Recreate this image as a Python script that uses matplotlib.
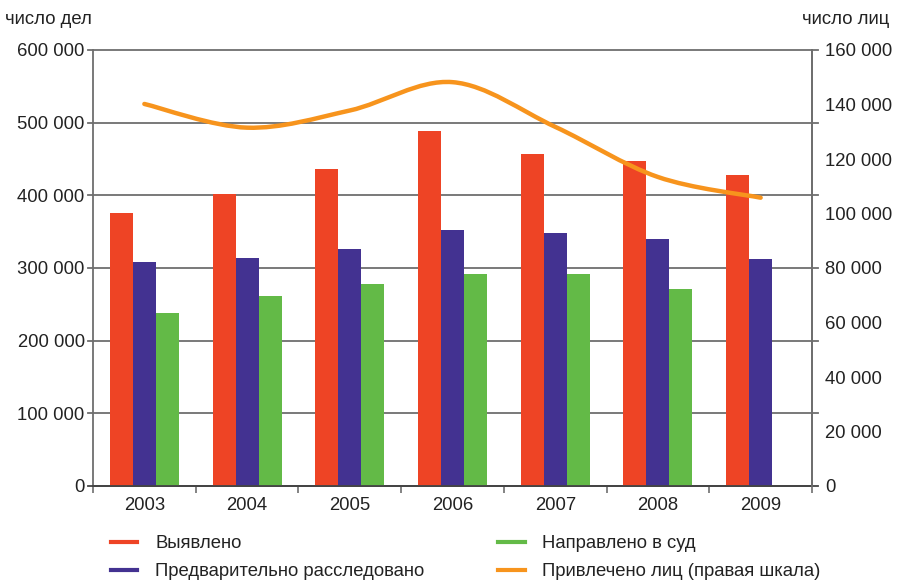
import matplotlib
matplotlib.use("Agg")
import matplotlib.pyplot as plt
import numpy as np
from matplotlib.path import Path
from matplotlib.patches import PathPatch
from matplotlib.lines import Line2D
from matplotlib.ticker import FuncFormatter, MultipleLocator

years = ["2003", "2004", "2005", "2006", "2007", "2008", "2009"]
revealed = [376000, 402000, 436000, 488000, 457000, 447000, 428000]
investigated = [308000, 314000, 326000, 352000, 348000, 340000, 312000]
to_court = [238000, 261000, 278000, 292000, 292000, 271000, np.nan]
persons = [140200, 131500, 137800, 148200, 131800, 113400, 105800]

labels = ["Выявлено", "Предварительно расследовано", "Направлено в суд",
          "Привлечено лиц (правая шкала)"]
c_red, c_blue, c_green, c_orange = "#EE4425", "#433291", "#63BA47", "#F7941D"
grid_c = "#6e6e6e"

plt.rcParams['font.family'] = ['Liberation Sans', 'DejaVu Sans']
FS = 13.3

fig = plt.figure(figsize=(9, 5.82), dpi=100)
ax = fig.add_axes([93/900, 1-486/582, (812-93)/900, 436/582])
x = np.arange(len(years))
w = 0.224
ax.bar(x - w, revealed, w, color=c_red, zorder=3, linewidth=0)
ax.bar(x, investigated, w, color=c_blue, zorder=3, linewidth=0)
ax.bar(x + w, to_court, w, color=c_green, zorder=3, linewidth=0)

ax.set_xlim(-0.5, len(years) - 0.5)
ax.set_ylim(0, 600000)
ax.yaxis.set_major_locator(MultipleLocator(100000))
fmt = FuncFormatter(lambda v, p: f"{int(v):,}".replace(",", " "))
ax.yaxis.set_major_formatter(fmt)
for v in range(100000, 600001, 100000):
    ax.axhline(v, xmin=-0.007, xmax=1.009, color=grid_c, lw=1.3, zorder=1, clip_on=False)
ax.tick_params(axis='y', length=0, pad=6, labelsize=FS, colors='#222222')
ax.set_xticks(x)
ax.set_xticklabels(years)
ax.set_xticks(np.arange(-0.5, len(years) + 0.5, 1), minor=True)
ax.tick_params(axis='x', which='major', length=0, pad=8, labelsize=FS, colors='#222222')
ax.tick_params(axis='x', which='minor', length=5, width=1.2, color=grid_c, direction='out')
for s in ['left', 'right', 'bottom']:
    ax.spines[s].set_color(grid_c)
    ax.spines[s].set_linewidth(1.3)
ax.spines['bottom'].set_color('#444444')
ax.spines['top'].set_visible(False)
ax.axhline(0, xmin=-0.007, xmax=1.009, color='#444444', lw=1.3, zorder=4, clip_on=False)

ax2 = ax.twinx()
ax2.set_ylim(0, 160000)
ax2.yaxis.set_major_locator(MultipleLocator(20000))
ax2.yaxis.set_major_formatter(fmt)
ax2.tick_params(axis='y', length=0, pad=9.5, labelsize=FS, colors='#222222')
for s in ['left', 'top', 'bottom']:
    ax2.spines[s].set_visible(False)
ax2.spines['right'].set_color(grid_c)
ax2.spines['right'].set_linewidth(1.3)

# smoothed line (Catmull-Rom through data points)
pts = np.column_stack([x, persons]).astype(float)
ext = np.vstack([pts[0], pts, pts[-1]])
verts = [tuple(pts[0])]
codes = [Path.MOVETO]
for i in range(len(pts) - 1):
    p0, p1, p2, p3 = ext[i], ext[i+1], ext[i+2], ext[i+3]
    c1 = p1 + (p2 - p0) / 6
    c2 = p2 - (p3 - p1) / 6
    verts += [tuple(c1), tuple(c2), tuple(p2)]
    codes += [Path.CURVE4] * 3
ax2.add_patch(PathPatch(Path(verts, codes), facecolor='none', edgecolor=c_orange,
                        lw=3.2, capstyle='round', zorder=5))

fig.text(5/900, 1-19/582, "число дел", fontsize=FS, va='center', ha='left', color='#222222')
fig.text(889/900, 1-19/582, "число лиц", fontsize=FS, va='center', ha='right', color='#222222')

handles = [Line2D([], [], color=c, lw=3) for c in (c_red, c_blue, c_green, c_orange)]
fig.legend(handles, labels, ncol=2, loc='upper left', bbox_to_anchor=(111/900, 1-535/582),
           frameon=False, fontsize=FS, handlelength=1.42, handletextpad=0.97,
           columnspacing=4.0, labelspacing=0.62, borderpad=0, borderaxespad=0,
           labelcolor='#222222')

fig.savefig("out.png", dpi=100)
